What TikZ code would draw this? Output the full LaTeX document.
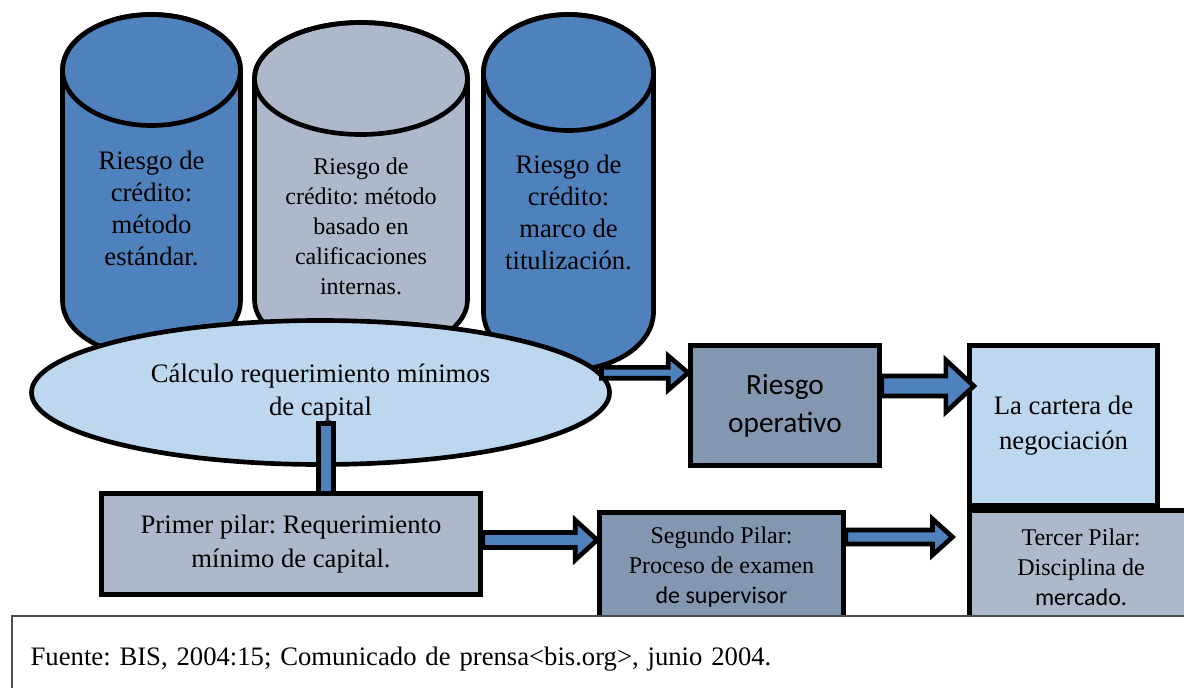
\documentclass[tikz,border=0pt]{standalone}
\usepackage{fontspec}
\setmainfont{Liberation Serif}
\newfontfamily\calibri{Carlito}
\usetikzlibrary{shapes.geometric,calc}
\frenchspacing

\definecolor{pilarblue}{HTML}{4F81BD}
\definecolor{pilargray}{HTML}{ADB9CA}
\definecolor{pilarslate}{HTML}{8497B0}
\definecolor{pilarlight}{HTML}{BDD7EE}
\definecolor{footgray}{HTML}{4D4D4D}

% cx, rx, y of top face, y of bottom face, ry, fill
\newcommand{\cylinderbody}[6]{%
  \filldraw[fill=#6] (#1-#2,#3) -- (#1-#2,#4) arc[start angle=180, end angle=360, x radius=#2, y radius=#5]
    -- (#1+#2,#3) arc[start angle=0, end angle=180, x radius=#2, y radius=#5] -- cycle;
  \draw (#1,#3) ellipse[x radius=#2, y radius=#5];}

% from, to, shaft half height, head half height, head length
\newcommand{\blockarrow}[5]{%
  \filldraw[fill=pilarblue] let \p1=(#1), \p2=(#2) in
    (\x1,\y1+#3) -- (\x2-#5,\y1+#3) -- (\x2-#5,\y1+#4) -- (\x2,\y1)
    -- (\x2-#5,\y1-#4) -- (\x2-#5,\y1-#3) -- (\x1,\y1-#3) -- cycle;}

\begin{document}
\begin{tikzpicture}[x=0.75pt, y=0.75pt, line width=3.5pt]
    \tikzstyle{cyltext}=[align=center, inner sep=0pt, font=\fontsize{20}{24}\selectfont]
    \tikzstyle{pillarbox}=[rectangle, draw, align=center, inner sep=2pt, font=\fontsize{20}{25}\selectfont]

    \useasboundingbox (0,0) rectangle (1184,-688);

    \cylinderbody{151.5}{89}{-70}{-301}{55.5}{pilarblue}
    \cylinderbody{361}{106.5}{-78.5}{-300}{56}{pilargray}
    \cylinderbody{568.5}{85}{-72.5}{-312}{58}{pilarblue}

    \node[cyltext] (credstd) at (151.5,-208) {Riesgo de\\crédito:\\método\\estándar.};
    \node[cyltext, font=\fontsize{18}{22.5}\selectfont] (credirb) at (361,-226) {Riesgo de\\crédito: método\\basado en\\calificaciones\\internas.};
    \node[cyltext] (credtit) at (568.5,-212) {Riesgo de\\crédito:\\marco de\\titulización.};

    \node[ellipse, draw, fill=pilarlight, minimum width=433.5pt, minimum height=108pt, align=center,
          font=\fontsize{20}{25}\selectfont] (capital) at (320.5,-392.5) {Cálculo requerimiento mínimos\\de capital};

    \node[pillarbox, fill=pilargray, minimum width=284.25pt, minimum height=75.75pt] (primer) at (291,-544) {Primer pilar: Requerimiento\\mínimo de capital.};
    \node[pillarbox, fill=pilarslate, minimum width=141.75pt, minimum height=90pt,
          font=\calibri\fontsize{22}{28.5}\selectfont] (riskop) at (785,-405.5) {Riesgo\\operativo};
    \node[pillarbox, fill=pilarlight, minimum width=141pt, minimum height=120pt, font=\fontsize{20}{26}\selectfont] (cartera) at (1063.5,-425.5) {La cartera de\\negociación};
    \node[pillarbox, fill=pilargray, minimum width=167.25pt, minimum height=84.75pt, font=\fontsize{18}{22.5}\selectfont] (tercer) at (1081,-567) {Tercer Pilar:\\Disciplina de\\{\calibri mercado.}};
    \node[pillarbox, fill=pilarslate, minimum width=183pt, minimum height=81.75pt, font=\fontsize{18}{22.5}\selectfont] (segundo) at (721.5,-567) {Segundo Pilar:\\Proceso de examen\\{\calibri de supervisor}};

    \coordinate (barstart) at (326,-421);
    \draw[line width=15pt] (barstart) -- (barstart |- primer.north);
    \draw[line width=7.5pt, pilarblue] ([yshift=-3.75pt]barstart) -- (barstart |- primer.north);

    \blockarrow{capital.4}{riskop.west}{4.1pt}{12.8pt}{15pt}
    \blockarrow{[yshift=14.6pt]riskop.east}{[xshift=5pt]cartera.west}{7.5pt}{19.5pt}{21pt}
    \blockarrow{[yshift=3pt]primer.east}{segundo.west}{5.6pt}{15pt}{16.5pt}
    \blockarrow{[yshift=22.5pt]segundo.east}{[xshift=-11pt]tercer.west}{5.2pt}{13.5pt}{15pt}

    \node[draw=footgray, line width=1.5pt, fill=white, anchor=north west, minimum height=64pt, text width=864pt,
          inner xsep=14pt, align=left, font=\fontsize{20}{24}\selectfont] (fuente) at (11,-615)
          {Fuente: BIS, 2004:15; Comunicado de prensa<bis.org>, junio 2004.};
\end{tikzpicture}
\end{document}
